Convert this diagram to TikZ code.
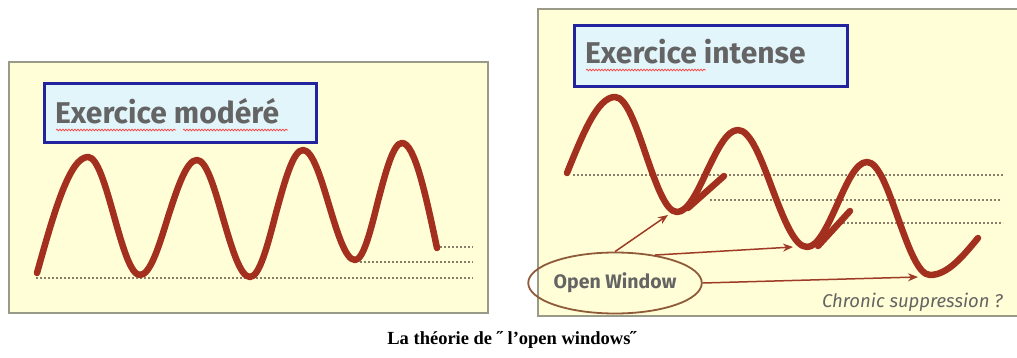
\documentclass[tikz,border=0pt]{standalone}
\usepackage{fontspec}
\setmainfont{Liberation Serif}
\newfontfamily\comicfont{Fira Sans}
\usetikzlibrary{shapes.geometric,arrows.meta,decorations.pathmorphing}
\definecolor{panelfill}{HTML}{FFFED6}
\definecolor{panelline}{HTML}{9A9A88}
\definecolor{boxfill}{HTML}{E2F5FB}
\definecolor{boxline}{HTML}{2323A0}
\definecolor{wavecol}{HTML}{A3301F}
\definecolor{txtgray}{HTML}{646464}
\definecolor{dotcol}{HTML}{8A7E6A}
\definecolor{arrowcol}{HTML}{9E3A25}
\definecolor{ellcol}{HTML}{8E5A3A}
\tikzset{
  panel/.style={draw=panelline, line width=1.6pt, fill=panelfill},
  titlebox/.style={draw=boxline, line width=2.6pt, fill=boxfill, anchor=north west, inner sep=0pt},
  titletext/.style={anchor=base west, inner sep=0pt, text=txtgray, font=\comicfont\bfseries\fontsize{30}{31}\selectfont},
  wave/.style={draw=wavecol, line width=6.5pt, line cap=round, line join=round},
  dotline/.style={draw=dotcol, line width=2pt, dash pattern=on 1.6pt off 2.4pt},
  squiggle/.style={draw=red!75!white, line width=0.7pt, decorate, decoration={snake, amplitude=0.9pt, segment length=3pt}},
  owarrow/.style={draw=arrowcol, line width=1.5pt, -{Stealth[length=10pt,width=8pt]}},
  ownode/.style={ellipse, draw=ellcol, line width=1.8pt, minimum width=137pt, minimum height=61pt, inner sep=0pt, text=txtgray, font=\comicfont\bfseries\fontsize{19.5}{20}\selectfont},
}
\begin{document}
\begin{tikzpicture}[x=1pt,y=-1pt]
\useasboundingbox (0,0) rectangle (1017,358);
\fill[white] (0,0) rectangle (1017,358);
% panels
\draw[panel] (9,62) rectangle (488,313);
\draw[panel] (538,9) rectangle (1018,316);
% ---- left panel ----
\node[titlebox, minimum width=272pt, minimum height=59pt] (box1) at (43,82) {};
\node[titletext] (title1) at (55,124) {Exercice modéré};
\draw[squiggle] (56,130) -- (176,130);
\draw[squiggle] (183,130) -- (288,130);
% dotted levels
\draw[dotline] (36,278) -- (473,278);
\draw[dotline] (360,262) -- (473,262);
\draw[dotline] (440,247) -- (473,247);
% wave
\draw[wave] (37,273) sin (88,157) cos (114,216) sin (140,275) cos (168,217) sin (197,160)
  cos (223,218) sin (250,277) cos (276,213) sin (303,150) cos (329,205) sin (355,260)
  cos (378,201) sin (402,143) cos (437,248);
% ---- right panel ----
\node[titlebox, minimum width=273pt, minimum height=61pt] (box2) at (573,24) {};
\node[titletext] (title2) at (585,64) {Exercice intense};
\draw[squiggle] (586,70) -- (706,70);
% dotted levels
\draw[dotline] (573,175) -- (1003,175);
\draw[dotline] (710,200) -- (1000,200);
\draw[dotline] (843,223) -- (1003,223);
% wave
\draw[wave] (567,173) sin (615,97) cos (646,155) sin (677,212) cos (707,171) sin (738,130)
  cos (772,188) sin (807,247) cos (837,205) sin (867,162) cos (898,218) sin (930,275)
  cos (978,238);
\draw[wave] (688,208) -- (724,176);
\draw[wave] (818,246) -- (850,211);
% open window
\node[ownode] (ow) at (615,283) {Open Window};
\coordinate (tr1) at (668,215);
\coordinate (tr2) at (793,247);
\coordinate (tr3) at (918,277);
\draw[owarrow] (ow.north) -- (tr1);
\draw[owarrow] (ow.35) -- (tr2);
\draw[owarrow] (ow.east) -- (tr3);
\node[anchor=base east, inner sep=0pt, text=txtgray, font=\comicfont\itshape\fontsize{18.5}{19}\selectfont] (chronic) at (1003,307) {Chronic suppression ?};
% caption
\node[anchor=base, inner sep=0pt, font=\bfseries\fontsize{18.5}{19}\selectfont] (caption) at (512,344) {La théorie de ˝ l'open windows˝};
\end{tikzpicture}
\end{document}
